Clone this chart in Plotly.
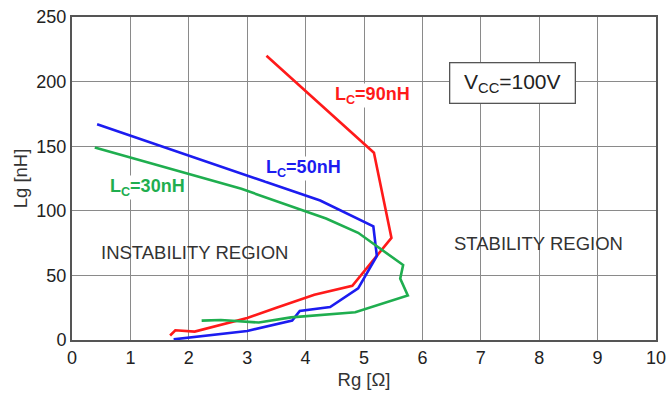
import plotly.graph_objects as go

# Data (Rg in ohm, Lg in nH)
red_x = [1.68, 1.77, 2.1, 3.0, 3.5, 4.15, 4.8, 5.47, 5.17, 3.33]
red_y = [3.5, 7.5, 6.5, 17, 25, 35, 42, 79, 145, 220]

blue_x = [1.74, 3.0, 3.77, 3.9, 4.42, 4.9, 5.22, 5.16, 4.25, 0.43]
blue_y = [0.5, 7, 15, 22.5, 25.5, 40, 65, 88, 108, 167]

green_x = [2.22, 2.55, 3.2, 3.75, 4.85, 5.75, 5.62, 5.67, 4.9, 4.35, 2.9, 0.39]
green_y = [15, 15.5, 13.5, 17.5, 21.5, 34.5, 47.5, 58, 83, 94, 117, 149]

x_ticks = [0, 1, 2, 3, 4, 5, 6, 7, 8, 9, 10]
y_ticks = [0, 50, 100, 150, 200, 250]

RED = "#ff1a1a"
BLUE = "#1c1cf0"
GREEN = "#1fae4f"
FONT = "Liberation Sans, Arial, sans-serif"

fig = go.Figure()
for xs, ys, c in [(red_x, red_y, RED), (blue_x, blue_y, BLUE), (green_x, green_y, GREEN)]:
    fig.add_trace(go.Scatter(x=xs, y=ys, mode="lines",
                             line=dict(color=c, width=2.6), showlegend=False,
                             hoverinfo="skip"))

ann = [
    dict(x=5.14, y=189, text="<b>L<sub>C</sub>=90nH</b>", color=RED, size=18, bg="white"),
    dict(x=3.96, y=133, text="<b>L<sub>C</sub>=50nH</b>", color=BLUE, size=18, bg="white"),
    dict(x=1.3, y=118, text="<b>L<sub>C</sub>=30nH</b>", color=GREEN, size=18, bg="white"),
    dict(x=2.09, y=67.5, text="INSTABILITY REGION", color="#333333", size=18.5, bg=None),
    dict(x=7.98, y=74.5, text="STABILITY REGION", color="#333333", size=18.5, bg=None),
]
for a in ann:
    fig.add_annotation(x=a["x"], y=a["y"], text=a["text"], showarrow=False,
                       font=dict(color=a["color"], size=a["size"], family=FONT),
                       bgcolor=a["bg"], borderpad=0)

fig.add_annotation(x=7.55, y=199, text="V<sub>CC</sub>=100V", showarrow=False,
                   font=dict(color="#222222", size=21, family=FONT),
                   bgcolor="white", bordercolor="#555555", borderwidth=1.3,
                   borderpad=7, width=110, height=25)

fig.update_xaxes(range=[0, 10], tickvals=x_ticks, showgrid=True, automargin=False,
                 gridcolor="#8a8a8a", gridwidth=1, showline=True,
                 linecolor="#555555", linewidth=2, mirror=True,
                 zeroline=False, ticks="", ticklen=0,
                 tickfont=dict(size=18, family=FONT, color="#222222"),
                 title=dict(text="Rg [Ω]", font=dict(size=18.5, family=FONT, color="#333333"),
                            standoff=6))
fig.update_yaxes(range=[0, 250], tickvals=y_ticks, showgrid=True, automargin=False,
                 gridcolor="#8a8a8a", gridwidth=1, showline=True,
                 linecolor="#555555", linewidth=2, mirror=True,
                 zeroline=False, ticks="", ticklen=0,
                 tickfont=dict(size=18, family=FONT, color="#222222"),
                 title=dict(text="Lg [nH]", font=dict(size=18.5, family=FONT, color="#333333"),
                            standoff=4))

fig.update_layout(width=670, height=396, margin=dict(l=72, r=14, t=17, b=56),
                  paper_bgcolor="white", plot_bgcolor="white",
                  font=dict(family=FONT))

fig.write_html("out.html")
